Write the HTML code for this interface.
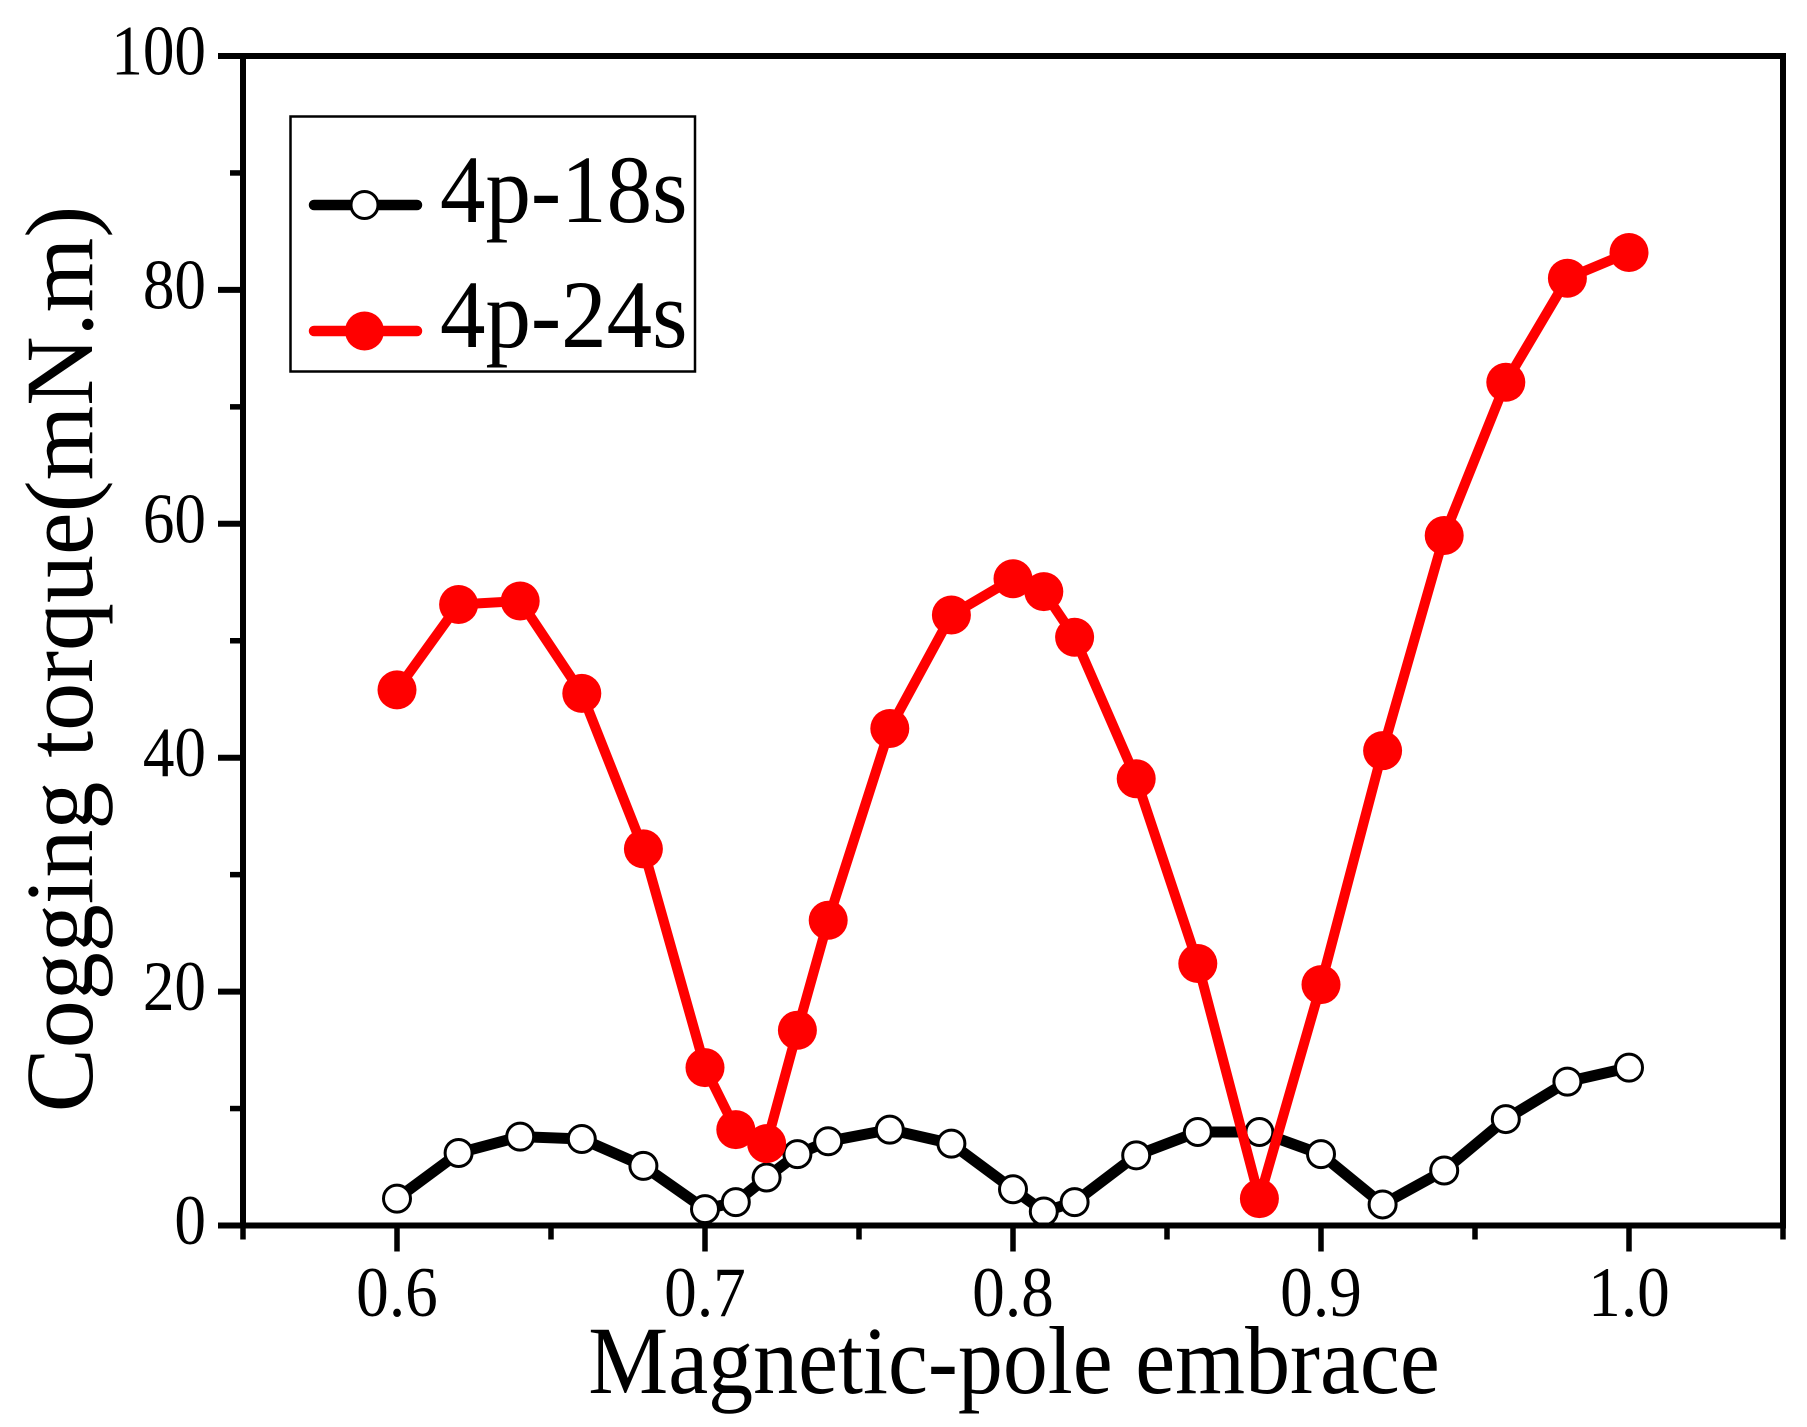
<!DOCTYPE html>
<html>
<head>
<meta charset="utf-8">
<title>Cogging torque vs magnetic-pole embrace</title>
<style>
  html, body { margin: 0; padding: 0; background: #fff; }
  svg { display: block; }
  text { font-family: "Liberation Serif", "Times New Roman", serif; fill: #000; }
</style>
</head>
<body>
<svg id="chart" width="1807" height="1427" viewBox="0 0 1807 1427" xmlns="http://www.w3.org/2000/svg">
  <rect x="0" y="0" width="1807" height="1427" fill="#fff"/>
  <g id="series"></g>
  <g id="axes"></g>
  <text font-size="96" text-anchor="middle" transform="translate(1014,1393) scale(0.937,1)">Magnetic-pole embrace</text>
  <text font-size="96" text-anchor="middle" transform="translate(92,659) rotate(-90)">Cogging torque(mN.m)</text>
  <g>
    <rect x="290.5" y="116.5" width="404.5" height="255" fill="#fff" stroke="#000" stroke-width="2.5"/>
    <g>
      <line x1="314" y1="205" x2="417" y2="205" stroke="#000" stroke-width="10.5" stroke-linecap="round"/>
      <circle cx="364.5" cy="205" r="13.5" fill="#fff" stroke="#000" stroke-width="3"/>
      <text font-size="96" transform="translate(440,222) scale(0.947,1)">4p-18s</text>
    </g>
    <g>
      <line x1="314" y1="331" x2="417" y2="331" stroke="#f00" stroke-width="10.5" stroke-linecap="round"/>
      <circle cx="364.5" cy="331" r="19.5" fill="#f00"/>
      <text font-size="96" transform="translate(440,347) scale(0.947,1)">4p-24s</text>
    </g>
  </g>
</svg>
<script>
var embrace = [0.60,0.62,0.64,0.66,0.68,0.70,0.71,0.72,0.73,0.74,0.76,0.78,0.80,0.81,0.82,0.84,0.86,0.88,0.90,0.92,0.94,0.96,0.98,1.00];
var torque18s = [2.3,6.2,7.6,7.4,5.1,1.4,2.0,4.1,6.1,7.2,8.2,7.0,3.1,1.2,2.0,6.0,8.0,8.0,6.1,1.8,4.7,9.1,12.3,13.5];
var torque24s = [45.8,53.1,53.4,45.5,32.2,13.5,8.2,7.0,16.7,26.1,42.5,52.2,55.3,54.2,50.3,38.2,22.4,2.3,20.6,40.6,59.0,72.1,81.0,83.2];
var xMajorTicks = ["0.6","0.7","0.8","0.9","1.0"];
var xMinorTicks = [0.55,0.65,0.75,0.85,0.95,1.05];
var yMajorTicks = ["0","20","40","60","80","100"];
var yMinorTicks = [10,30,50,70,90];

var NS = 'http://www.w3.org/2000/svg';
var plot = { left: 243, right: 1783, top: 56, bottom: 1225.5, xMin: 0.55, xMax: 1.05, yMin: 0, yMax: 100 };
function xScale(v) { return plot.left + (v - plot.xMin) / (plot.xMax - plot.xMin) * (plot.right - plot.left); }
function yScale(v) { return plot.bottom - (v - plot.yMin) / (plot.yMax - plot.yMin) * (plot.bottom - plot.top); }
function make(tag, parent, attrs) {
  var el = document.createElementNS(NS, tag);
  for (var k in attrs) { el.setAttribute(k, attrs[k]); }
  parent.appendChild(el);
  return el;
}

var axes = document.getElementById('axes');
var series = document.getElementById('series');

function drawSeries(name, values, color, lineW, radius, fill, strokeW) {
  var pts = embrace.map(function (x, i) { return xScale(x) + ',' + yScale(values[i]); }).join(' ');
  var line = make('polyline', series, { points: pts, fill: 'none', stroke: color, 'stroke-width': lineW, 'stroke-linejoin': 'round' });
  
  
  embrace.forEach(function (x, i) {
    var c = make('circle', series, { cx: xScale(x), cy: yScale(values[i]), r: radius, fill: fill, stroke: color, 'stroke-width': strokeW });
    
    
  });
}
drawSeries('4p-18s', torque18s, '#000', 11, 13.5, '#fff', 3);
drawSeries('4p-24s', torque24s, '#f00', 10, 19.5, '#f00', 0);

var frame = make('rect', axes, { x: plot.left, y: plot.top, width: plot.right - plot.left, height: plot.bottom - plot.top, fill: 'none', stroke: '#000', 'stroke-width': 6 });



xMajorTicks.forEach(function (label) {
  var x = xScale(parseFloat(label));
  var t = make('line', axes, { x1: x, y1: plot.bottom, x2: x, y2: plot.bottom + 26, stroke: '#000', 'stroke-width': 5.5 });
  
  
  var txt = make('text', axes, { 'font-size': 71, 'text-anchor': 'middle', transform: 'translate(' + x + ',1316) scale(0.92,1)' });
  
  
  txt.textContent = label;
});
xMinorTicks.forEach(function (v) {
  var x = xScale(v);
  var t = make('line', axes, { x1: x, y1: plot.bottom, x2: x, y2: plot.bottom + 14, stroke: '#000', 'stroke-width': 5.5 });
  
  
});
yMajorTicks.forEach(function (label) {
  var y = yScale(parseFloat(label));
  var t = make('line', axes, { x1: plot.left - 25, y1: y, x2: plot.left, y2: y, stroke: '#000', 'stroke-width': 6 });
  
  
  var txt = make('text', axes, { 'font-size': 71, 'text-anchor': 'end', transform: 'translate(206,' + (y + 18.5) + ') scale(0.89,1)' });
  
  
  txt.textContent = label;
});
yMinorTicks.forEach(function (v) {
  var y = yScale(v);
  var t = make('line', axes, { x1: plot.left - 13, y1: y, x2: plot.left, y2: y, stroke: '#000', 'stroke-width': 5.5 });
  
  
});
</script>
</body>
</html>
